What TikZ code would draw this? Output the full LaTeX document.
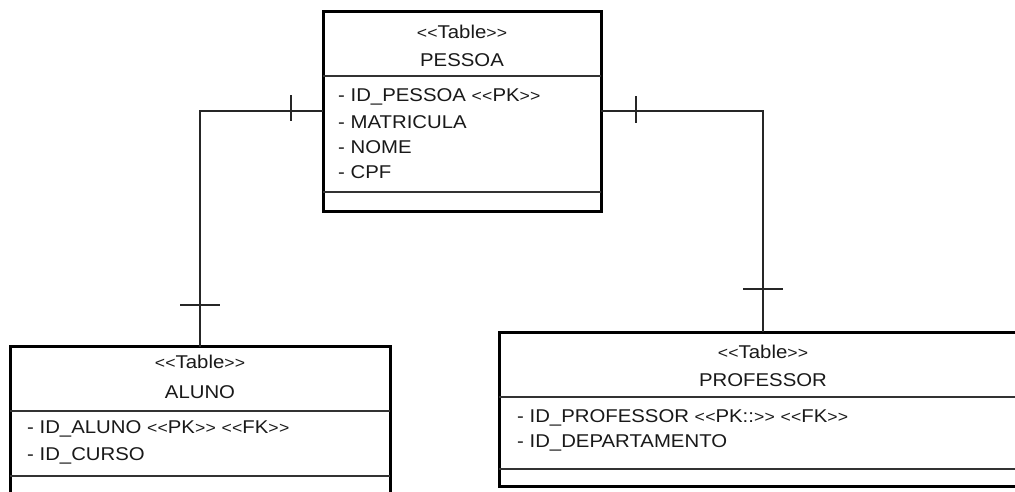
\documentclass[tikz,border=0pt]{standalone}
\usepackage{fontspec}
\setmainfont[FakeStretch=1.1]{Liberation Sans}
\newcommand\sopen{{\fontsize{16}{16}\selectfont<\kern0.3pt<}}
\newcommand\sclose{{\fontsize{16}{16}\selectfont>\kern0.3pt>}}
\tikzset{
  tablebox/.style={draw=black, line width=3pt, rectangle, inner sep=0pt, outer sep=0pt},
  sepline/.style={line width=1.5pt, draw=black!80},
  conn/.style={line width=1.5pt, draw=black!85},
  tick/.style={line width=1.5pt, draw=black!85},
  ttl/.style={font=\fontsize{18.5}{20}\selectfont, text=black!90, inner sep=0pt, anchor=center},
  attr/.style={font=\fontsize{18.5}{20}\selectfont, text=black!90, inner sep=0pt, anchor=west},
}
\begin{document}
\begin{tikzpicture}[x=1pt,y=-1pt]
\useasboundingbox (0,0) rectangle (1015,491);
\clip (0,0) rectangle (1015,491);
\fill[white] (0,0) rectangle (1015,491);

% boxes
\node[tablebox, minimum width=278pt, minimum height=200pt] (pessoa) at (462,111) {};
\node[tablebox, minimum width=380pt, minimum height=200pt] (aluno) at (200,446.5) {};
\node[tablebox, minimum width=528pt, minimum height=154pt] (professor) at (763,409) {};

% separators
\draw[sepline] (pessoa.west |- 0,76) -- (pessoa.east |- 0,76);
\draw[sepline] (pessoa.west |- 0,192) -- (pessoa.east |- 0,192);
\draw[sepline] (aluno.west |- 0,411) -- (aluno.east |- 0,411);
\draw[sepline] (aluno.west |- 0,476) -- (aluno.east |- 0,476);
\draw[sepline] (professor.west |- 0,397) -- (professor.east |- 0,397);
\draw[sepline] (professor.west |- 0,469) -- (professor.east |- 0,469);

% PESSOA texts
\node[ttl] (pst) at (462,32) {\sopen Table\sclose};
\node[ttl] (psn) at (462,60) {PESSOA};
\node[attr] (pa1) at (338,97) {- ID\_PESSOA \sopen PK\sclose};
\node[attr] (pa2) at (338,122) {- MATRICULA};
\node[attr] (pa3) at (338,147) {- NOME};
\node[attr] (pa4) at (338,172) {- CPF};

% ALUNO texts
\node[ttl] (alt) at (200,362) {\sopen Table\sclose};
\node[ttl] (aln) at (200,392) {ALUNO};
\node[attr] (aa1) at (27,429) {- ID\_ALUNO \sopen PK\sclose\ \sopen FK\sclose};
\node[attr] (aa2) at (27,456) {- ID\_CURSO};

% PROFESSOR texts
\node[ttl] (prt) at (763,352) {\sopen Table\sclose};
\node[ttl] (prn) at (763,380) {PROFESSOR};
\node[attr] (pr1) at (517,418) {- ID\_PROFESSOR \sopen PK::\sclose\ \sopen FK\sclose};
\node[attr] (pr2) at (517,443) {- ID\_DEPARTAMENTO};

% connectors
\draw[conn] (pessoa.west) -| (aluno.north);
\draw[conn] (pessoa.east) -| (professor.north);

% ticks
\draw[tick] (291,95) -- (291,121);
\draw[tick] (180,305) -- (220,305);
\draw[tick] (636,96) -- (636,123);
\draw[tick] (743,289) -- (783,289);
\end{tikzpicture}
\end{document}
